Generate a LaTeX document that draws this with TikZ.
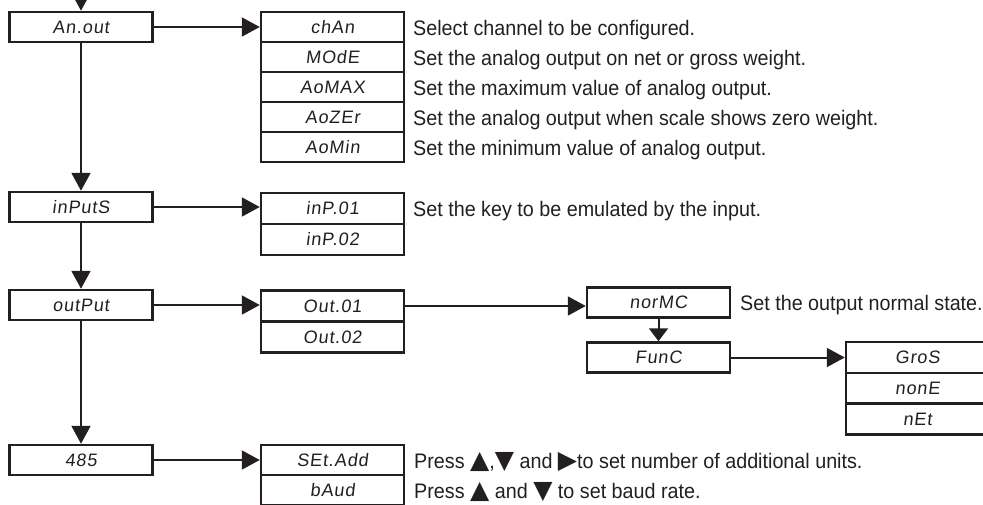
\documentclass[tikz,border=0pt]{standalone}
\usepackage{fontspec}
\usetikzlibrary{arrows.meta}
\newfontfamily\descfont[FakeStretch=0.94]{Liberation Sans}
\newfontfamily\segfont[FakeSlant=0.12,LetterSpace=5]{Liberation Sans}
\newfontfamily\symfont{DejaVu Sans}
\newcommand\keyglyph[1]{{\symfont\fontsize{25}{21}\selectfont #1}}
\definecolor{ink}{HTML}{231F20}
\begin{document}
\begin{tikzpicture}[x=1pt,y=-1pt,
  box/.style={draw=ink, line width=2.5pt, minimum width=143pt, minimum height=30pt,
    inner sep=0pt, font=\segfont\fontsize{18}{18}\selectfont, text=ink},
  desc/.style={anchor=base west, inner sep=0pt,
    font=\descfont\fontsize{21}{21}\selectfont, text=ink},
  link/.style={draw=ink, line width=2pt, -{Triangle[width=19pt,length=18pt]}},
  shortlink/.style={draw=ink, line width=2pt, -{Triangle[width=19pt,length=13pt]}}]
\useasboundingbox (0,0) rectangle (983,504);
\clip (0,0) rectangle (983,504);

% main menu column
\node[box] (anout)  at (81,27)  {An.out};
\node[box] (inputs) at (81,207) {inPutS};
\node[box] (output) at (81,305) {outPut};
\node[box] (r485)   at (81,460) {485};

% analog output submenu
\node[box] (chan)  at (332.5,27)  {chAn};
\node[box] (mode)  at (332.5,57)  {MOdE};
\node[box] (aomax) at (332.5,87)  {AoMAX};
\node[box] (aozer) at (332.5,117) {AoZEr};
\node[box] (aomin) at (332.5,147) {AoMin};

% inputs submenu
\node[box, minimum height=31pt] (inp01) at (332.5,208.5) {inP.01};
\node[box, minimum height=31pt] (inp02) at (332.5,239.5) {inP.02};

% outputs submenu
\node[box, minimum height=31pt] (out01) at (332.5,306) {Out.01};
\node[box, minimum height=31pt] (out02) at (332.5,337) {Out.02};
\node[box] (normc) at (658.5,302.5) {norMC};
\node[box] (func)  at (658.5,357.5) {FunC};
\node[box, minimum height=31pt] (gros) at (917.5,357.5) {GroS};
\node[box, minimum height=31pt] (none) at (917.5,388.5) {nonE};
\node[box, minimum height=31pt] (net)  at (917.5,419)   {nEt};

% serial port submenu
\node[box] (setadd) at (332.5,460) {SEt.Add};
\node[box] (baud)   at (332.5,490) {bAud};

% connectors
\coordinate (entry) at (81,-12);
\draw[link] (entry) -- (anout.north);
\draw[link] (anout.south) -- (inputs.north);
\draw[link] (inputs.south) -- (output.north);
\draw[link] (output.south) -- (r485.north);
\draw[link] (anout.east) -- (chan.west);
\draw[link] (inputs.east) -- (inputs.east -| inp01.west);
\draw[link] (output.east) -- (output.east -| out01.west);
\draw[link] (r485.east) -- (setadd.west);
\draw[link] (out01.east) -- (out01.east -| normc.west);
\draw[shortlink] (normc.south) -- (func.north);
\draw[link] (func.east) -- (gros.west);

% descriptions
\node[desc] (dchan)  at (413,35)  {Select channel to be configured.};
\node[desc] (dmode)  at (413,65)  {Set the analog output on net or gross weight.};
\node[desc] (dmax)   at (413,95)  {Set the maximum value of analog output.};
\node[desc] (dzer)   at (413,125) {Set the analog output when scale shows zero weight.};
\node[desc] (dmin)   at (413,155) {Set the minimum value of analog output.};
\node[desc] (dinp)   at (413,216) {Set the key to be emulated by the input.};
\node[desc] (dnorm)  at (740,310) {Set the output normal state.};
\node[desc] (dset)   at (414,468) {Press \keyglyph{▲},\keyglyph{▼} and \keyglyph{▶}to set number of additional units.};
\node[desc] (dbaud)  at (414,498) {Press \keyglyph{▲} and \keyglyph{▼} to set baud rate.};
\end{tikzpicture}
\end{document}
